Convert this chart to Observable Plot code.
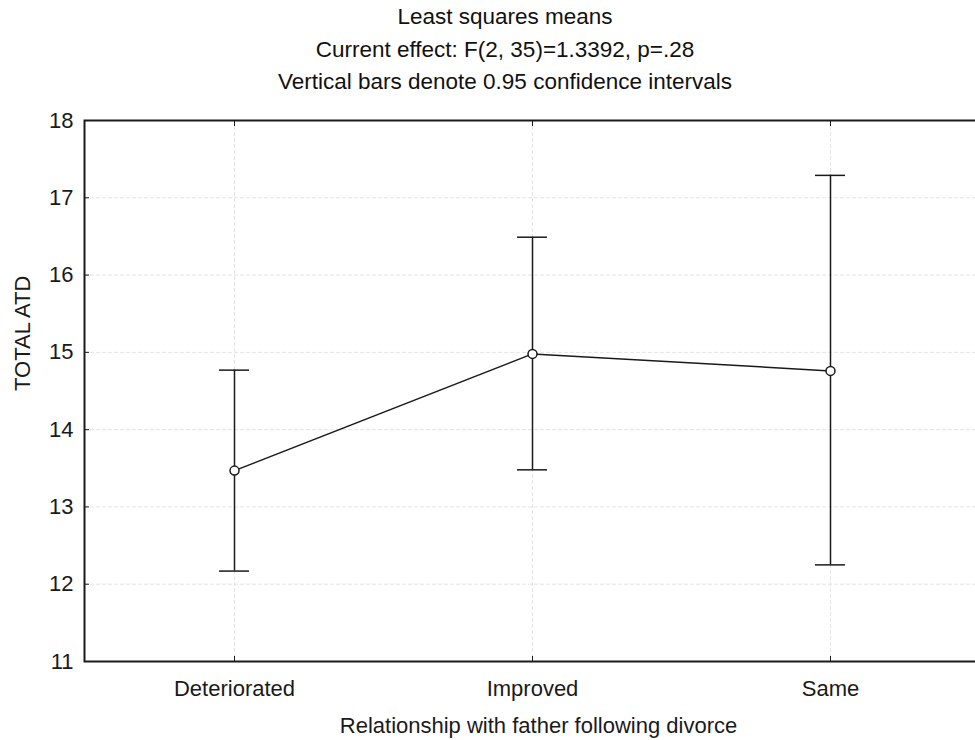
<!DOCTYPE html>
<html><head><meta charset="utf-8">
<script src="https://cdn.jsdelivr.net/npm/d3@7"></script>
<script src="https://cdn.jsdelivr.net/npm/@observablehq/plot@0.6"></script>
<style>
body{margin:0;background:#fff;font-family:"Liberation Sans",Arial,sans-serif;overflow:hidden;}
#title{width:975px;height:100px;box-sizing:border-box;padding-top:1px;padding-left:35px;text-align:center;font-size:22.5px;line-height:32.5px;color:#111;}
</style></head><body>
<div id="title"><div>Least squares means</div><div>Current effect: F(2, 35)=1.3392, p=.28</div><div>Vertical bars denote 0.95 confidence intervals</div></div>
<div id="chart"></div>
<script>
const categories = ["Deteriorated", "Improved", "Same"];
const means = [13.47, 14.98, 14.76];
const lower = [12.17, 13.48, 12.25];
const upper = [14.77, 16.49, 17.29];
const yTicks = [11, 12, 13, 14, 15, 16, 17, 18];
const xLabel = "Relationship with father following divorce";
const yLabel = "TOTAL ATD";

const data = categories.map((c, i) => ({cat: c, mean: means[i], lo: lower[i], hi: upper[i]}));
const ink = "#1a1a1a";
const grid = {stroke: "#e4e4e4", strokeOpacity: 1, strokeDasharray: "4,2"};
const chart = Plot.plot({
  width: 975, height: 640,
  marginLeft: 84, marginRight: -5, marginTop: 20, marginBottom: 79,
  style: {fontFamily: "Liberation Sans, Arial, sans-serif", fontSize: "22px", color: ink, background: "#fff", overflow: "visible"},
  x: {type: "band", domain: categories, padding: 0},
  y: {domain: [11, 18]},
  marks: [
    Plot.gridY(yTicks.slice(1, -1), grid),
    Plot.gridX(categories, grid),
    Plot.axisY(yTicks, {anchor: "left", tickSize: -5, tickPadding: 16, tickFormat: d => String(d), label: null, fontSize: 22}),
    Plot.axisX(categories, {anchor: "bottom", tickSize: -5, tickPadding: 24, label: null, fontSize: 22}),
    Plot.axisX(categories, {anchor: "top", tickSize: -5, tickFormat: () => "", label: null}),
    Plot.frame({stroke: ink, strokeWidth: 2}),
    Plot.ruleX(data, {x: "cat", y1: "lo", y2: "hi", stroke: ink, strokeWidth: 1.5}),
    Plot.tickY(data, {x: "cat", y: "lo", insetLeft: 134, insetRight: 134, stroke: ink, strokeWidth: 1.5}),
    Plot.tickY(data, {x: "cat", y: "hi", insetLeft: 134, insetRight: 134, stroke: ink, strokeWidth: 1.5}),
    Plot.line(data, {x: "cat", y: "mean", stroke: ink, strokeWidth: 1.5}),
    Plot.dot(data, {x: "cat", y: "mean", r: 4.5, fill: "#fff", stroke: ink, strokeWidth: 1.5}),
    Plot.text([xLabel], {text: d => d, frameAnchor: "bottom", dy: 64, dx: 6, fontSize: 22, lineAnchor: "middle"}),
    Plot.text([yLabel], {text: d => d, frameAnchor: "left", dx: -62, rotate: -90, fontSize: 22, lineAnchor: "middle"})
  ]
});
document.getElementById("chart").appendChild(chart);
</script>
</body></html>
